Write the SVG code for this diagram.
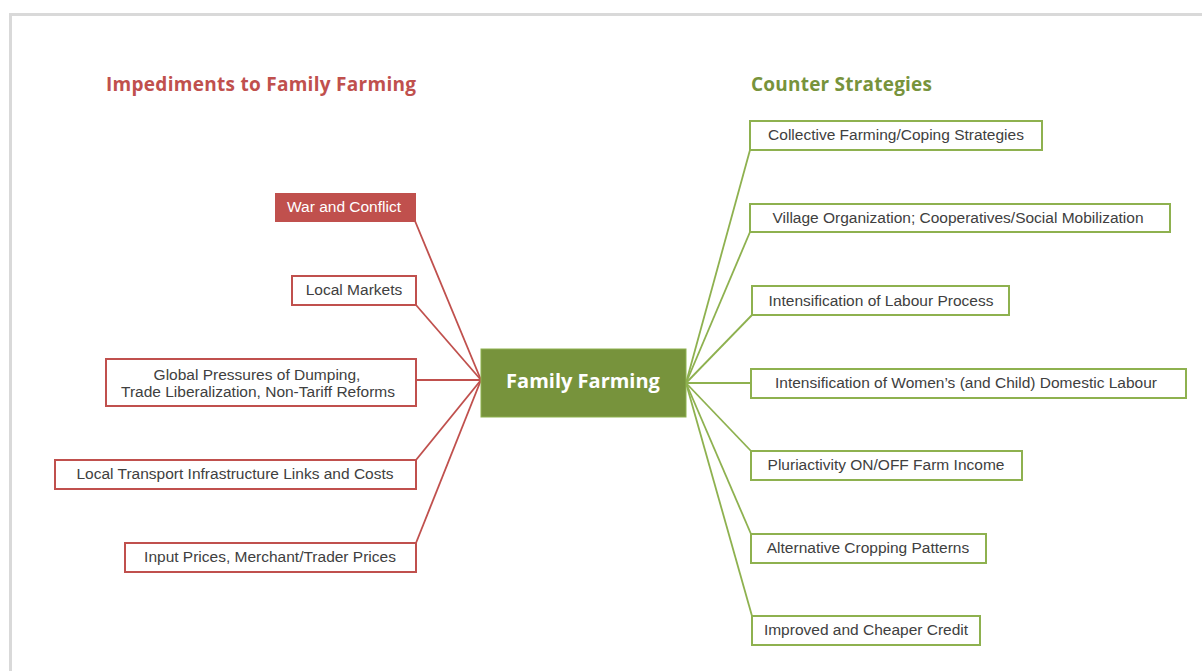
<svg xmlns="http://www.w3.org/2000/svg" width="1202" height="671" viewBox="0 0 1202 671">
<style>
.t{font-family:"Liberation Sans",Arial,sans-serif;font-size:15.5px;fill:#404040;text-anchor:middle}
.h{font-family:"Open Sans","Liberation Sans",sans-serif;font-size:19px;font-weight:bold}
.r{fill:#ffffff;stroke:#c0504d;stroke-width:2}
.g{fill:#ffffff;stroke:#8eb14f;stroke-width:2}
.cr{stroke:#c0504d;stroke-width:1.8;fill:none}
.cg{stroke:#8eb14f;stroke-width:1.8;fill:none}
</style>
<rect x="0" y="0" width="1202" height="671" fill="#ffffff"/>
<rect x="10.5" y="14.5" width="1300" height="800" fill="none" stroke="#d9d9d9" stroke-width="3"/>
<text class="h" x="106" y="91" fill="#c0504d" textLength="310">Impediments to Family Farming</text>
<text class="h" x="751" y="91" fill="#77933c" textLength="181">Counter Strategies</text>
<g id="connectors">
<line class="cr" x1="415" y1="221" x2="481" y2="380"/>
<line class="cr" x1="416" y1="305" x2="481" y2="380"/>
<line class="cr" x1="416" y1="380" x2="481" y2="380"/>
<line class="cr" x1="416" y1="460" x2="481" y2="380"/>
<line class="cr" x1="416" y1="543" x2="481" y2="380"/>
<line class="cg" x1="686" y1="383" x2="750" y2="150"/>
<line class="cg" x1="686" y1="383" x2="750" y2="232"/>
<line class="cg" x1="686" y1="383" x2="752" y2="315"/>
<line class="cg" x1="686" y1="383" x2="751" y2="383"/>
<line class="cg" x1="686" y1="383" x2="751" y2="451"/>
<line class="cg" x1="686" y1="383" x2="751" y2="534"/>
<line class="cg" x1="686" y1="383" x2="752" y2="616"/>
</g>
<g id="center">
<rect x="481" y="349" width="205" height="68" fill="#77933c" stroke="#8eb14f" stroke-width="1"/>
<text x="583" y="388" fill="#ffffff" font-family="Open Sans, Liberation Sans, sans-serif" font-size="20" font-weight="bold" text-anchor="middle">Family Farming</text>
</g>
<g id="war">
<rect x="276" y="194" width="139" height="27" fill="#c0504d" stroke="#c0504d" stroke-width="2"/>
<text class="t" x="344" y="212" style="fill:#ffffff">War and Conflict</text>
</g>
<g id="local-markets">
<rect class="r" x="292" y="276" width="124" height="29"/>
<text class="t" x="354" y="295">Local Markets</text>
</g>
<g id="global">
<rect class="r" x="106" y="359" width="310" height="47"/>
<text class="t" x="257" y="380">Global Pressures of Dumping,</text>
<text class="t" x="258" y="397">Trade Liberalization, Non-Tariff Reforms</text>
</g>
<g id="transport">
<rect class="r" x="55" y="460" width="361" height="29"/>
<text class="t" x="235" y="479">Local Transport Infrastructure Links and Costs</text>
</g>
<g id="input">
<rect class="r" x="125" y="543" width="291" height="29"/>
<text class="t" x="270" y="562">Input Prices, Merchant/Trader Prices</text>
</g>
<g id="collective">
<rect class="g" x="750" y="121" width="292" height="29"/>
<text class="t" x="896" y="140">Collective Farming/Coping Strategies</text>
</g>
<g id="village">
<rect class="g" x="750" y="204" width="420" height="28"/>
<text class="t" x="958" y="223">Village Organization; Cooperatives/Social Mobilization</text>
</g>
<g id="labour">
<rect class="g" x="752" y="286" width="257" height="29"/>
<text class="t" x="881" y="306">Intensification of Labour Process</text>
</g>
<g id="women">
<rect class="g" x="751" y="369" width="435" height="29"/>
<text class="t" x="966" y="388">Intensification of Women’s (and Child) Domestic Labour</text>
</g>
<g id="pluri">
<rect class="g" x="751" y="451" width="271" height="29"/>
<text class="t" x="886" y="470">Pluriactivity ON/OFF Farm Income</text>
</g>
<g id="alternative">
<rect class="g" x="751" y="534" width="235" height="29"/>
<text class="t" x="868" y="553">Alternative Cropping Patterns</text>
</g>
<g id="credit">
<rect class="g" x="752" y="616" width="228" height="29"/>
<text class="t" x="866" y="635">Improved and Cheaper Credit</text>
</g>
</svg>
